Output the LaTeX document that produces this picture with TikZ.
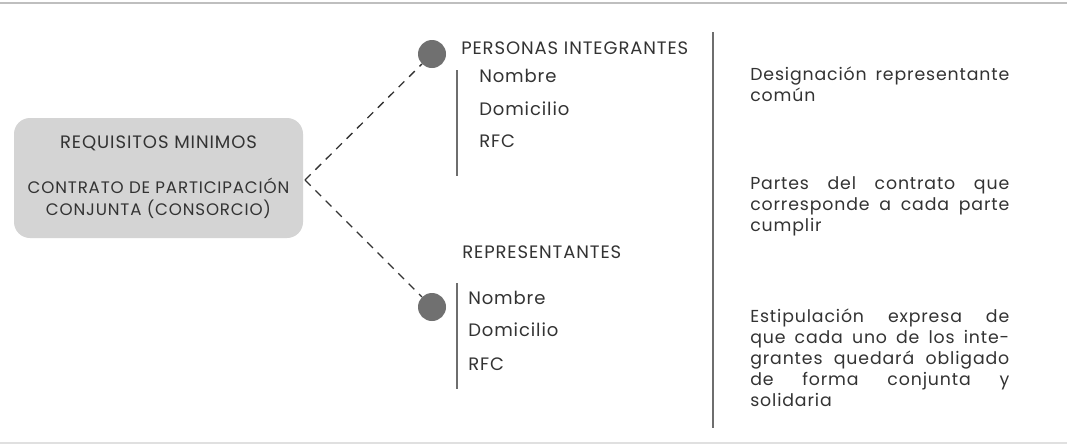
\documentclass[tikz,border=0pt]{standalone}
\usepackage{fontspec}
\setmainfont{Poppins}[LetterSpace=5]
\begin{document}
\begin{tikzpicture}[x=0.75pt,y=-0.75pt,
  txt/.style={inner sep=0pt,text=textgray,font=\fontsize{13.5pt}{15pt}\selectfont},
  dot/.style={circle,fill=dotgray,minimum size=21pt,inner sep=0pt},
  conn/.style={dashed,line width=1pt,draw=black!80,dash pattern=on 6pt off 5pt},
  bar/.style={line width=2pt,draw=bargray},
  box/.style={rounded corners=12pt,fill=boxgray,minimum width=216.75pt,minimum height=90pt,inner sep=0pt}
]
\definecolor{textgray}{HTML}{333333}
\definecolor{dotgray}{HTML}{707070}
\definecolor{bargray}{HTML}{6E6E6E}
\definecolor{boxgray}{HTML}{D4D4D4}
\useasboundingbox (0,0) rectangle (1067,444);
\fill[white] (0,0) rectangle (1067,444);
\draw[line width=1.5pt,draw=black!25] (0,3) -- (1067,3);
\draw[line width=1.5pt,draw=black!12] (0,443) -- (1067,443);
% box
\node[box] (req) at (158.5,178) {};
\node[txt,font=\fontsize{13.5pt}{15pt}\selectfont] (t1) at (158.5,143) {REQUISITOS MINIMOS};
\node[txt,font=\fontsize{12.5pt}{16.5pt}\selectfont,align=center] (t2) at (158.5,198) {CONTRATO DE PARTICIPACIÓN\\CONJUNTA (CONSORCIO)};
\coordinate (fork) at (305,180);
% dots
\node[dot] (d1) at (432,54) {};
\node[dot] (d2) at (432,307) {};
\draw[conn] (fork) -- (d1);
\draw[conn] (fork) -- (d2);
% top group
\node[txt,anchor=west] (pi) at (461,48) {PERSONAS INTEGRANTES};
\coordinate (b1a) at (457,70);
\coordinate (b1b) at (457,176);
\draw[bar] (b1a) -- (b1b);
\node[txt,anchor=west] (n1) at (479,76) {Nombre};
\node[txt,anchor=west] (dm1) at (479,109) {Domicilio};
\node[txt,anchor=west] (r1) at (479,141) {RFC};
% bottom group
\node[txt,anchor=west] (rep) at (462,252) {REPRESENTANTES};
\coordinate (b2a) at (457,283);
\coordinate (b2b) at (457,389);
\draw[bar] (b2a) -- (b2b);
\node[txt,anchor=west] (n2) at (468,298) {Nombre};
\node[txt,anchor=west] (dm2) at (468,330) {Domicilio};
\node[txt,anchor=west] (r2) at (468,364) {RFC};
% big divider
\coordinate (va) at (713,32);
\coordinate (vb) at (713,428);
\draw[line width=2.2pt,draw=bargray] (va) -- (vb);
% right text
\newcommand{\jl}[1]{\makebox[194.25pt][s]{#1}}
\tikzset{rt/.style={txt,anchor=north west,align=left,font=\fontsize{13pt}{15.75pt}\selectfont}}
\node[rt] (p1) at (750,67) {\jl{Designación representante}\\común};
\node[rt] (p2) at (750,176) {\jl{Partes del contrato que}\\\jl{corresponde a cada parte}\\cumplir};
\node[rt] (p3) at (750,309) {\jl{Estipulación expresa de}\\\jl{que cada uno de los inte-}\\\jl{grantes quedará obligado}\\\jl{de forma conjunta y}\\solidaria};
\end{tikzpicture}
\end{document}
